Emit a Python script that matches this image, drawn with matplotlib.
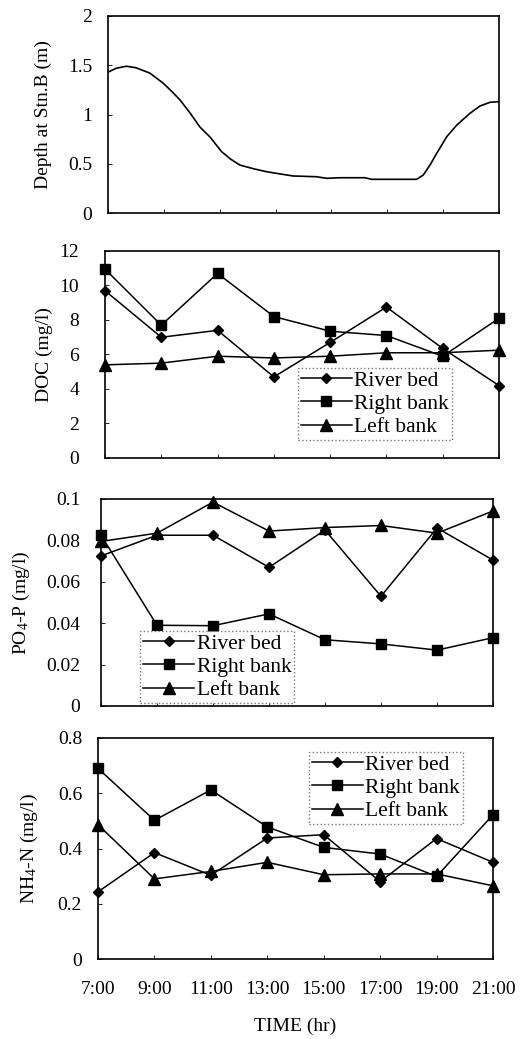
import matplotlib
matplotlib.use('Agg')
import matplotlib.pyplot as plt

# --- fonts (Times-like) ---
plt.rcParams['font.family'] = ['Liberation Serif', 'DejaVu Serif']
plt.rcParams['mathtext.fontset'] = 'custom'
plt.rcParams['mathtext.rm'] = 'Liberation Serif'
plt.rcParams['mathtext.it'] = 'Liberation Serif:italic'

# --- data ---
# depth curve (hour of day, metres)
depth_hours = [7.0, 7.3, 7.66, 8.0, 8.5, 8.98, 9.3, 9.58, 9.94, 10.29,
               10.65, 11.07, 11.4, 11.72, 12.2, 12.68, 13.2, 13.62, 14.47,
               14.83, 15.31, 16.2, 16.44, 17.2, 18.05, 18.29, 18.53, 18.77,
               19.13, 19.49, 19.96, 20.32, 20.68, 21.0]
depth_m = [1.43, 1.47, 1.49, 1.475, 1.42, 1.317, 1.23, 1.147, 1.015, 0.873,
           0.772, 0.622, 0.545, 0.487, 0.45, 0.419, 0.395, 0.376, 0.368,
           0.352, 0.358, 0.358, 0.342, 0.342, 0.342, 0.386, 0.487, 0.606,
           0.775, 0.893, 1.012, 1.086, 1.124, 1.13]

hours = [7, 9, 11, 13, 15, 17, 19, 21]
time_labels = ['7:00', '9:00', '11:00', '13:00', '15:00', '17:00', '19:00', '21:00']
series_names = ['River bed', 'Right bank', 'Left bank']

doc_river = [9.7, 7.0, 7.4, 4.7, 6.7, 8.75, 6.35, 4.2]
doc_right = [10.95, 7.7, 10.7, 8.2, 7.35, 7.1, 5.9, 8.1]
doc_left = [5.4, 5.5, 5.9, 5.8, 5.9, 6.1, 6.1, 6.25]

po4_river = [0.0725, 0.0825, 0.0825, 0.067, 0.085, 0.053, 0.086, 0.0705]
po4_right = [0.0825, 0.039, 0.0388, 0.0445, 0.032, 0.030, 0.027, 0.033]
po4_left = [0.0795, 0.0835, 0.0985, 0.0845, 0.0862, 0.0872, 0.0835, 0.0942]

nh4_river = [0.243, 0.385, 0.303, 0.438, 0.45, 0.28, 0.436, 0.35]
nh4_right = [0.69, 0.502, 0.612, 0.478, 0.404, 0.38, 0.299, 0.522]
nh4_left = [0.486, 0.29, 0.317, 0.35, 0.305, 0.308, 0.308, 0.265]

depth_ticks = [0, 0.5, 1, 1.5, 2]
depth_ticklabels = ['0', '0.5', '1', '1.5', '2']
doc_ticks = [0, 2, 4, 6, 8, 10, 12]
doc_ticklabels = ['0', '2', '4', '6', '8', '10', '12']
po4_ticks = [0, 0.02, 0.04, 0.06, 0.08, 0.1]
po4_ticklabels = ['0', '0.02', '0.04', '0.06', '0.08', '0.1']
nh4_ticks = [0, 0.2, 0.4, 0.6, 0.8]
nh4_ticklabels = ['0', '0.2', '0.4', '0.6', '0.8']

W, H = 522, 1039
fig = plt.figure(figsize=(W / 100, H / 100), dpi=100)
fig.patch.set_facecolor('white')


def add_axes_px(left, top, right, bottom):
    return fig.add_axes([left / W, 1 - bottom / H, (right - left) / W, (bottom - top) / H])


def style_axes(ax, ticks, ticklabels, ylim, ylabel, label_x_px, left_px, right_px, ypad):
    ax.set_xlim(7, 21)
    ax.set_ylim(*ylim)
    ax.set_xticks(hours)
    ax.set_yticks(ticks)
    ax.set_yticklabels(ticklabels)
    ax.tick_params(axis='both', direction='in', length=3, width=0.6, labelsize=14)
    ax.tick_params(axis='y', pad=ypad)
    for sp in ax.spines.values():
        sp.set_linewidth(1.2)
        sp.set_color('black')
    ax.set_ylabel(ylabel, fontsize=14)
    # label anchor is its right edge (rotated text)
    ax.yaxis.set_label_coords((label_x_px - left_px) / (right_px - left_px), 0.5)


markers = [('D', 5.0), ('s', 7.0), ('^', 8.0)]


def plot_three(ax, ys):
    for (m, ms), y, name in zip(markers, ys, series_names):
        ax.plot(hours, y, color='black', lw=1.1, marker=m, ms=ms,
                mfc='black', mec='black', clip_on=False, label=name, zorder=3)


def add_legend(ax, x, ytop):
    leg = ax.legend(loc='upper left', bbox_to_anchor=(x, ytop), borderaxespad=0,
                    fontsize=15.5, handlelength=2.4, handletextpad=0.1,
                    labelspacing=0.15, borderpad=0.12, fancybox=False,
                    framealpha=1, edgecolor='#777777')
    leg.get_frame().set_linestyle(':')
    leg.get_frame().set_linewidth(1.0)


# --- panel 1: depth ---
ax1 = add_axes_px(108, 16, 499, 213)
ax1.plot(depth_hours, depth_m, color='black', lw=1.2)
style_axes(ax1, depth_ticks, depth_ticklabels, (0, 2), 'Depth at Stn.B (m)', 52, 108, 499, 11.5)
ax1.set_xticklabels([])

# --- panel 2: DOC ---
ax2 = add_axes_px(105, 251, 499, 458)
plot_three(ax2, [doc_river, doc_right, doc_left])
style_axes(ax2, doc_ticks, doc_ticklabels, (0, 12), 'DOC (mg/l)', 53, 105, 499, 18.5)
ax2.set_xticklabels([])
add_legend(ax2, 0.49, 0.435)

# --- panel 3: PO4-P ---
ax3 = add_axes_px(101, 499, 493, 706)
plot_three(ax3, [po4_river, po4_right, po4_left])
style_axes(ax3, po4_ticks, po4_ticklabels, (0, 0.1), 'PO$_4$-P (mg/l)', 32, 101, 493, 15)
ax3.set_xticklabels([])
add_legend(ax3, 0.1, 0.362)

# --- panel 4: NH4-N ---
ax4 = add_axes_px(98, 738, 493, 959)
plot_three(ax4, [nh4_river, nh4_right, nh4_left])
style_axes(ax4, nh4_ticks, nh4_ticklabels, (0, 0.8), 'NH$_4$-N (mg/l)', 40, 98, 493, 11.5)
ax4.set_xticklabels(time_labels)
ax4.tick_params(axis='x', pad=16)
ax4.set_xlabel('TIME (hr)', fontsize=14, labelpad=14)
add_legend(ax4, 0.534, 0.937)

fig.savefig('out.png', dpi=100)
